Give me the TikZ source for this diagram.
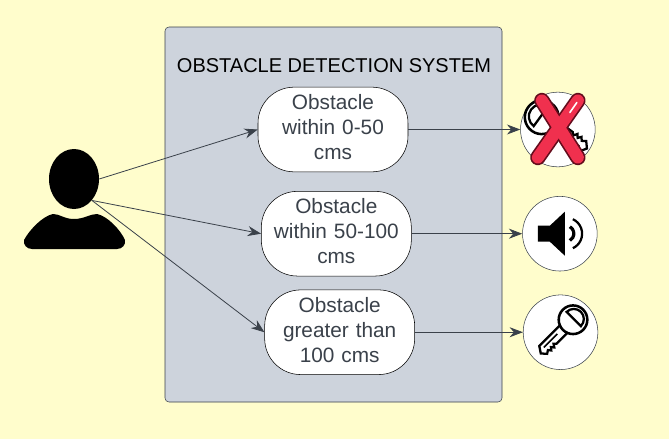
\documentclass[tikz,border=0pt]{standalone}
\usepackage{fontspec}
\setmainfont{Liberation Sans}
\usetikzlibrary{arrows.meta,positioning,shapes.geometric,calc}
\definecolor{paper}{RGB}{255,253,204}
\definecolor{sysgray}{RGB}{205,211,220}
\definecolor{inkgray}{RGB}{58,65,74}
\definecolor{crossred}{RGB}{240,48,78}
\definecolor{crossdark}{RGB}{100,12,28}
\begin{document}
\begin{tikzpicture}[x=0.75pt,y=-0.75pt,font=\fontsize{15.6}{18.75}\selectfont,
  keyicon/.pic={
    \draw[line width=1.7pt,fill=white] (-4,-5) -- (13,-5) -- (15,-3) -- (17,-6) -- (19,-3.5) -- (21,-6) -- (23,-3.5) -- (26,-5.5) -- (30,-1) -- (26,5) -- (-4,5) -- cycle;
    \draw[line width=1.1pt] (6,1) -- (24,1);
    \draw[line width=1.9pt,fill=white] (-14,0) circle (13.5);
    \draw[line width=1.7pt,fill=white] (-15,-9.5) arc (-90:-270:9.5) -- cycle;
  }]
\tikzset{
  system/.style={draw=inkgray,rounded corners=3pt,fill=sysgray,minimum width=252.75pt,minimum height=281.25pt,inner sep=0pt},
  obst/.style={draw=black,rounded corners=27pt,fill=white,align=center,text=inkgray,minimum width=112.5pt,minimum height=63.5pt,inner sep=0pt,text width=100pt,execute at end node={\par\vspace{3.5pt}}},
  result/.style={draw=inkgray,circle,fill=white,minimum size=56pt,inner sep=0pt},
  arr/.style={-{Stealth[length=10pt,width=7.5pt]},draw=inkgray,line width=0.6pt}
}
\useasboundingbox[fill=paper] (0,0) rectangle (669,439);
\node(sys)[system] at (333.5,214.5){};
\node(title)[fill=none,font=\fontsize{15}{18}\selectfont] at (334,65.5){OBSTACLE DETECTION SYSTEM};
\node(ob1)[obst] at (333,129.5){Obstacle\\within 0-50\\cms};
\node(ob2)[obst,below=14.25pt of ob1,xshift=2.5pt]{Obstacle\\within 50-100\\cms};
\node(ob3)[obst,below=10pt of ob2,xshift=2.5pt]{Obstacle\\greater than\\100 cms};
\node(res1)[result,right=84pt of ob1]{};
\node(res2)[result,right=83pt of ob2]{};
\node(res3)[result,right=81pt of ob3]{};
% user
\node(head)[ellipse,fill=black,minimum width=37.5pt,minimum height=45pt,inner sep=0pt] at (74,179){};
\fill (24,240) .. controls (30,229) and (43,216) .. (53,214) .. controls (60,214) and (64,219) .. (74,219) .. controls (84,219) and (90,214) .. (97,214) .. controls (107,216) and (120,229) .. (125,240) .. controls (126,245) and (122,249) .. (117,249) -- (32,249) .. controls (27,249) and (23,245) .. (24,240) -- cycle;
% locked key with cross
\pic[rotate=-36,scale=1.25] at ($(res1.center)+(-2,-2)$) {keyicon};
\draw[crossdark,line width=11.5pt,line cap=round] (res1.center)++(-16,-29) -- ++(36,57);
\draw[crossdark,line width=11.5pt,line cap=round] (res1.center)++(20,-29) -- ++(-40,57);
\draw[crossred,line width=9pt,line cap=round] (res1.center)++(-16,-29) -- ++(36,57);
\draw[crossred,line width=9pt,line cap=round] (res1.center)++(20,-29) -- ++(-40,57);
\draw[white,line width=1.2pt,line cap=round] (res1.center)++(19,-27) -- ++(-7,10);
% speaker
\fill (res2.center)++(-22,-8) -- ++(12,0) -- ++(15,-14) -- ++(0,44) -- ++(-15,-14) -- ++(-12,0) -- cycle;
\draw[line width=1.7pt] (res2.center)++(13,-14.5) arc (-65:65:16);
\draw[line width=2.4pt] (res2.center)++(10,-7) arc (-60:60:8);
% key
\pic[rotate=225,scale=1.06] at ($(res3.center)+(2,-2)$) {keyicon};
\draw[arr](head.east)--(ob1.west);
\draw[arr](head.south east)--(ob2.west);
\draw[arr](head.south east)--(ob3.west);
\draw[arr](ob1.east)--(res1.west);
\draw[arr](ob2.east)--(res2.west);
\draw[arr](ob3.east)--(res3.west);
\end{tikzpicture}
\end{document}
